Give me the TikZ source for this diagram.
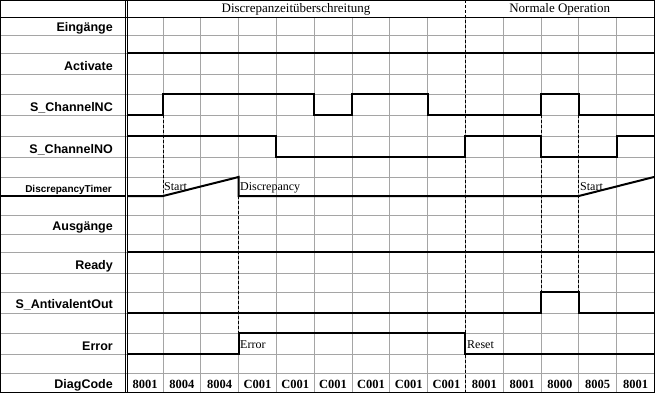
\documentclass[tikz,border=0pt]{standalone}
\usepackage{fontspec}
\setmainfont{Liberation Serif}
\newfontfamily\labfont{Liberation Sans}
\definecolor{gridgray}{RGB}{165,165,165}
\tikzset{
  sig/.style={line width=2pt, line join=miter},
  gridln/.style={draw=gridgray, line width=0.8pt},
  frame/.style={draw=black, line width=0.9pt},
  dashln/.style={draw=black, line width=0.9pt, dash pattern=on 3pt off 2pt},
  lab/.style={font=\labfont\bfseries\fontsize{12.5}{13}\selectfont, anchor=base east, inner sep=0pt},
  smalllab/.style={font=\labfont\bfseries\fontsize{10}{11}\selectfont, anchor=base east, inner sep=0pt},
  hdr/.style={font=\fontsize{13}{13}\selectfont, anchor=base, inner sep=0pt},
  note/.style={font=\fontsize{12}{12}\selectfont, anchor=base west, inner sep=0pt},
  code/.style={font=\bfseries\fontsize{12.5}{13}\selectfont, anchor=base, inner sep=0pt}
}
\begin{document}
\begin{tikzpicture}[x=1pt,y=-1pt]
\useasboundingbox (0,0) rectangle (655,393);
\fill[white] (0,0) rectangle (655,393);
% horizontal grid lines
\foreach \yy in {35,53,74,94,115,136,157,177,215,234,252,273,292,313,333,354,373}
  \draw[gridln] (0,\yy) -- (654,\yy);
% vertical grid lines
\foreach \i in {1,...,13}
  \draw[gridln] ({163+37.8*(\i-1)},17) -- ({163+37.8*(\i-1)},392);
% frame
\draw[frame] (0.5,0.5) rectangle (654,392.5);
\draw[frame] (0,17) -- (654,17);
\draw[frame] (125,0) -- (125,392.5);
\draw[frame] (127.5,0) -- (127.5,392.5);
\draw[line width=1.6pt] (0,196) -- (125,196);
% dashed markers
\draw[dashln] (465.4,0) -- (465.4,392);
\draw[dashln] (163,115) -- (163,196);
\draw[dashln] (238.6,196) -- (238.6,333);
\draw[dashln] (541,115) -- (541,292);
\draw[dashln] (578.8,115) -- (578.8,292);
% signals
\draw[sig] (127.5,53) -- (654,53);
\draw[sig] (127.5,115) -- (163,115) -- (163,94) -- (314.2,94) -- (314.2,115) -- (352,115) -- (352,94) -- (427.6,94) -- (427.6,115) -- (541,115) -- (541,94) -- (578.8,94) -- (578.8,115) -- (654,115);
\draw[sig] (127.5,136) -- (276.4,136) -- (276.4,157) -- (465.4,157) -- (465.4,136) -- (541,136) -- (541,157) -- (616.6,157) -- (616.6,136) -- (654,136);
\draw[sig] (127.5,196) -- (163,196) -- (238.6,177) -- (238.6,196) -- (578.8,196) -- (654,177);
\draw[sig] (127.5,252) -- (654,252);
\draw[sig] (127.5,313) -- (541,313) -- (541,292) -- (578.8,292) -- (578.8,313) -- (654,313);
\draw[sig] (127.5,354) -- (238.6,354) -- (238.6,333) -- (465.4,333) -- (465.4,354) -- (654,354);
% header
\node[hdr] (h1) at (296,13) {Discrepanzeitüberschreitung};
\node[hdr] (h2) at (559.7,12.5) {Normale Operation};
% row labels
\node[lab] (l1) at (113,32) {Eingänge};
\node[lab] (l2) at (113,71) {Activate};
\node[lab] (l3) at (113,112) {S\_ChannelNC};
\node[lab] (l4) at (113,153) {S\_ChannelNO};
\node[smalllab] (l5) at (112,192) {DiscrepancyTimer};
\node[lab] (l6) at (113,230) {Ausgänge};
\node[lab] (l7) at (113,269) {Ready};
\node[lab] (l8) at (113,308) {S\_AntivalentOut};
\node[lab] (l9) at (113,350) {Error};
\node[lab] (l10) at (113,388) {DiagCode};
% notes
\node[note] (n1) at (164,190.5) {Start};
\node[note] (n2) at (240,190.5) {Discrepancy};
\node[note] (n3) at (580,190.5) {Start};
\node[note] (n4) at (240,348) {Error};
\node[note] (n5) at (467,348) {Reset};
% diag codes
\node[code] (d1) at (145.2,388) {8001};
\foreach \i/\t in {2/8004,3/8004,4/C001,5/C001,6/C001,7/C001,8/C001,9/C001,10/8001,11/8001,12/8000,13/8005,14/8001}
  \node[code] (d\i) at ({163+37.8*(\i-2)+18.9},388) {\t};
\end{tikzpicture}
\end{document}
